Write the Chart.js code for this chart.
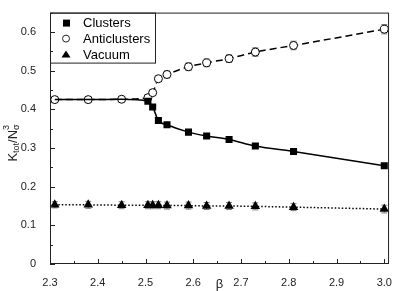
<!DOCTYPE html>
<html>
<head>
<meta charset="utf-8">
<script src="https://cdn.jsdelivr.net/npm/chart.js@4.4.0/dist/chart.umd.min.js"></script>
<style>
  html, body { margin: 0; padding: 0; background: #fff; }
  #wrap { width: 396px; height: 291px; }
</style>
</head>
<body>
<div id="wrap"><canvas id="chart" width="396" height="291"></canvas></div>
<script>
// Data
const betas = [2.31, 2.38, 2.45, 2.505, 2.515, 2.527, 2.545, 2.59, 2.628, 2.675, 2.73, 2.81, 3.0];
const clusters = [0.425, 0.425, 0.426, 0.421, 0.406, 0.371, 0.360, 0.341, 0.331, 0.322, 0.305, 0.291, 0.254];
const anticlusters = [0.425, 0.425, 0.426, 0.430, 0.443, 0.479, 0.490, 0.510, 0.520, 0.531, 0.548, 0.565, 0.607];
const antiErr = [0.006, 0.006, 0.005, 0.005, 0.006, 0.007, 0.009, 0.01, 0.01, 0.01, 0.011, 0.011, 0.012];
const vacuum = [0.153, 0.153, 0.152, 0.152, 0.152, 0.152, 0.151, 0.151, 0.150, 0.150, 0.149, 0.147, 0.142];
const vacErr = [0.008, 0.009, 0.009, 0.009, 0.009, 0.009, 0.009, 0.009, 0.009, 0.009, 0.009, 0.009, 0.01];

const xTicks = [2.3, 2.4, 2.5, 2.6, 2.7, 2.8, 2.9, 3.0];
const xTickLabels = ['2.3', '2.4', '2.5', '2.6', '2.7', '2.8', '2.9', '3.0'];
const yTicks = [0, 0.1, 0.2, 0.3, 0.4, 0.5, 0.6];
const yTickLabels = ['0', '0.1', '0.2', '0.3', '0.4', '0.5', '0.6'];

const legendLabels = ['Clusters', 'Anticlusters', 'Vacuum'];

const FONT = 'Liberation Sans, Arial, sans-serif';

const pts = arr => arr.map((v, i) => ({ x: betas[i], y: v }));

// error bars, box, inward ticks, legend and titles
const decor = {
    id: 'decor',
    beforeDatasetsDraw(chart) {
        const { ctx, scales: { x, y } } = chart;
        ctx.save();
        ctx.strokeStyle = '#7a7a7a';
        ctx.lineWidth = 1;
        const bars = (vals, errs) => {
            vals.forEach((v, i) => {
                const px = x.getPixelForValue(betas[i]);
                const y1 = y.getPixelForValue(v - errs[i]);
                const y2 = y.getPixelForValue(v + errs[i]);
                ctx.beginPath();
                ctx.moveTo(px, y1); ctx.lineTo(px, y2);
                ctx.moveTo(px - 3, y1); ctx.lineTo(px + 3, y1);
                ctx.moveTo(px - 3, y2); ctx.lineTo(px + 3, y2);
                ctx.stroke();
            });
        };
        bars(anticlusters, antiErr);
        bars(vacuum, vacErr);
        ctx.restore();
    },
    afterDraw(chart) {
        const { ctx, chartArea: a, scales: { x, y } } = chart;
        ctx.save();
        ctx.strokeStyle = '#222';
        ctx.lineWidth = 1;
        ctx.strokeRect(a.left + 0.5, a.top + 0.5, a.right - a.left - 1, a.bottom - a.top - 1);

        // inward ticks
        ctx.beginPath();
        for (let v = 2.3; v <= 3.001; v += 0.05) {
            const px = Math.round(x.getPixelForValue(v)) + 0.5;
            const major = Math.abs(v * 10 - Math.round(v * 10)) < 0.01;
            ctx.moveTo(px, a.bottom);
            ctx.lineTo(px, a.bottom - (major ? 5 : 3));
        }
        for (let v = 0; v <= 0.651; v += 0.05) {
            const py = Math.round(y.getPixelForValue(v)) + 0.5;
            const major = Math.abs(v * 10 - Math.round(v * 10)) < 0.01;
            ctx.moveTo(a.left, py);
            ctx.lineTo(a.left + (major ? 5 : 3), py);
        }
        ctx.stroke();

        // legend
        const lx = a.left, ly = a.top;
        ctx.strokeRect(lx + 0.5, ly + 0.5, 105, 50);
        ctx.fillStyle = '#000';
        ctx.font = '13px ' + FONT;
        ctx.textBaseline = 'middle';
        const rows = [ly + 10, ly + 26, ly + 42];
        const mx = lx + 16;
        // square
        ctx.fillRect(mx - 3, rows[0] - 3, 7, 7);
        // circle
        ctx.beginPath();
        ctx.arc(mx, rows[1], 3.5, 0, Math.PI * 2);
        ctx.stroke();
        // triangle
        ctx.beginPath();
        ctx.moveTo(mx, rows[2] - 4);
        ctx.lineTo(mx + 4.5, rows[2] + 3);
        ctx.lineTo(mx - 4.5, rows[2] + 3);
        ctx.closePath();
        ctx.fill();
        legendLabels.forEach((t, i) => ctx.fillText(t, lx + 33, rows[i] + 1));

        // x title
        ctx.fillStyle = '#222';
        ctx.font = '13px ' + FONT;
        ctx.textAlign = 'center';
        ctx.fillText('β', (a.left + a.right) / 2, 284);

        // y title K_tot/N_σ^3
        ctx.translate(13, 140);
        ctx.rotate(-Math.PI / 2);
        ctx.textAlign = 'left';
        const parts = [
            ['K', 13, 0], ['tot', 9, 4], ['/N', 13, 0], ['σ', 9, 4]
        ];
        let w = 0;
        parts.forEach(p => { ctx.font = p[1] + 'px ' + FONT; w += ctx.measureText(p[0]).width; });
        let cx = -w / 2 - 3;
        let sigmaX = 0;
        parts.forEach(p => {
            ctx.font = p[1] + 'px ' + FONT;
            if (p[0] === 'σ') sigmaX = cx;
            ctx.fillText(p[0], cx, p[2]);
            cx += ctx.measureText(p[0]).width;
        });
        ctx.font = '9px ' + FONT;
        ctx.fillText('3', sigmaX, -6);
        ctx.restore();
    }
};

new Chart(document.getElementById('chart'), {
    type: 'scatter',
    data: {
        datasets: [
            {
                label: 'Vacuum',
                data: pts(vacuum),
                showLine: true,
                borderColor: '#000',
                borderWidth: 1.5,
                borderDash: [1.5, 2],
                backgroundColor: '#000',
                pointStyle: 'triangle',
                pointRadius: 5.5,
                pointBorderWidth: 0,
                tension: 0
            },
            {
                label: 'Clusters',
                data: pts(clusters),
                showLine: true,
                borderColor: '#000',
                borderWidth: 1.5,
                backgroundColor: '#000',
                pointStyle: 'rect',
                pointRadius: [0, 0, 0, 5, 5, 5, 5, 5, 5, 5, 5, 5, 5],
                pointBorderWidth: 0,
                cubicInterpolationMode: 'monotone'
            },
            {
                label: 'Anticlusters',
                data: pts(anticlusters),
                showLine: true,
                borderColor: '#000',
                borderWidth: 1.5,
                borderDash: [7, 4],
                backgroundColor: '#fff',
                pointBackgroundColor: '#fff',
                pointBorderColor: '#000',
                pointStyle: 'circle',
                pointRadius: 4,
                pointBorderWidth: 1,
                cubicInterpolationMode: 'monotone'
            }
        ]
    },
    options: {
        responsive: false,
        animation: false,
        layout: { padding: { top: 8, right: 2, left: 0, bottom: 0 } },
        plugins: { legend: { display: false }, tooltip: { enabled: false } },
        scales: {
            x: {
                type: 'linear',
                min: 2.3,
                max: 3.01,
                grid: { display: false },
                border: { display: false },
                afterBuildTicks: s => { s.ticks = xTicks.map(v => ({ value: v })); },
                afterFit: s => { s.height = 27; },
                ticks: {
                    font: { family: FONT, size: 11 },
                    color: '#222',
                    padding: 4,
                    maxRotation: 0,
                    autoSkip: false,
                    callback: (v, i) => xTickLabels[i]
                }
            },
            y: {
                min: 0,
                max: 0.65,
                grid: { display: false },
                border: { display: false },
                afterBuildTicks: s => { s.ticks = yTicks.map(v => ({ value: v })); },
                afterFit: s => { s.width = 50; },
                ticks: {
                    font: { family: FONT, size: 11 },
                    color: '#222',
                    padding: 6,
                    autoSkip: false,
                    callback: (v, i) => yTickLabels[i]
                }
            }
        }
    },
    plugins: [decor]
});
</script>
</body>
</html>
